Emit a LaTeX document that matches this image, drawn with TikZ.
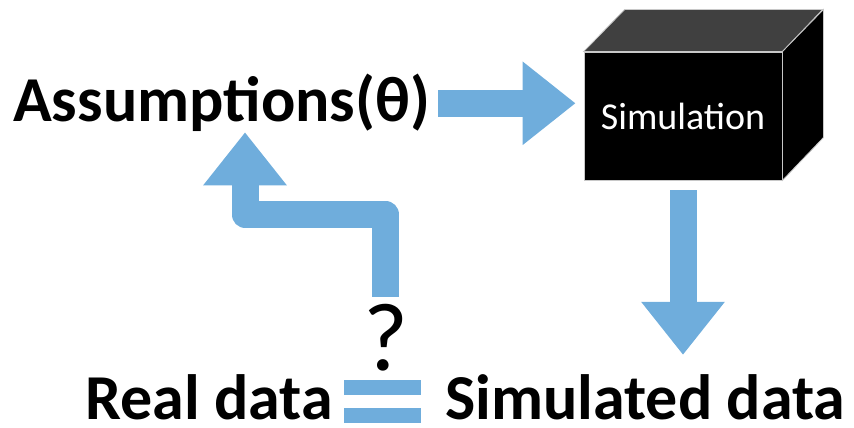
\documentclass[tikz,border=0pt]{standalone}
\usepackage{fontspec}
\setmainfont{Carlito}
\usepackage{tikz}
\usetikzlibrary{arrows.meta}
\definecolor{arrowblue}{RGB}{111,173,220}
\definecolor{topgrey}{RGB}{64,64,64}
\definecolor{edgegrey}{RGB}{200,200,200}

\begin{document}
\begin{tikzpicture}[x=1pt,y=1pt]
	\tikzstyle{label text}=[inner sep=0pt, anchor=base west, font=\bfseries\fontsize{64}{64}\selectfont]
	\tikzstyle{data text}=[label text, font=\bfseries\fontsize{64}{64}\selectfont]
	\tikzstyle{block arrow}=[draw=arrowblue, line width=27pt, -{Triangle[length=53pt,width=80pt]}]
	\tikzstyle{cube face}=[fill=black, draw=edgegrey, line width=0.8pt]

	\useasboundingbox (0,0) rectangle (854,428);

	\node [label text] (assume) at (13,306) {Assumptions(θ)};
	\node [cube face, minimum width=198pt, minimum height=128pt, inner sep=0pt,
		text=white, font=\fontsize{38}{38}\selectfont] (sim) at (683,312) {Simulation};
	\draw [cube face, fill=topgrey] (sim.north west) -- ++(41,42) -- ++(198,0) -- (sim.north east) -- cycle;
	\draw [cube face] (sim.north east) -- ++(41,42) -- ++(0,-128) -- (sim.south east) -- cycle;

	\node [data text] (real) at (85,8) {Real data};
	\node [data text] (simdata) at (445,8) {Simulated data};
	\node [inner sep=0pt, anchor=base west, font=\fontsize{97}{97}\selectfont] (qmark) at (363,57) {?};

	% equals sign between the two data sets
	\fill [arrowblue] (344,33) rectangle (421,48);
	\fill [arrowblue] (344,5) rectangle (421,20);

	\draw [block arrow, shorten <=8pt, shorten >=8pt] (assume.east) -- (assume.east -| sim.west);
	\draw [block arrow, shorten <=10pt, shorten >=20pt] (sim.south) -- (sim.south |- simdata.north);
	\draw [block arrow, line join=round] ([yshift=8pt]qmark.north) -- ++(0,82) -| ([xshift=232pt]assume.south west);
\end{tikzpicture}
\end{document}
